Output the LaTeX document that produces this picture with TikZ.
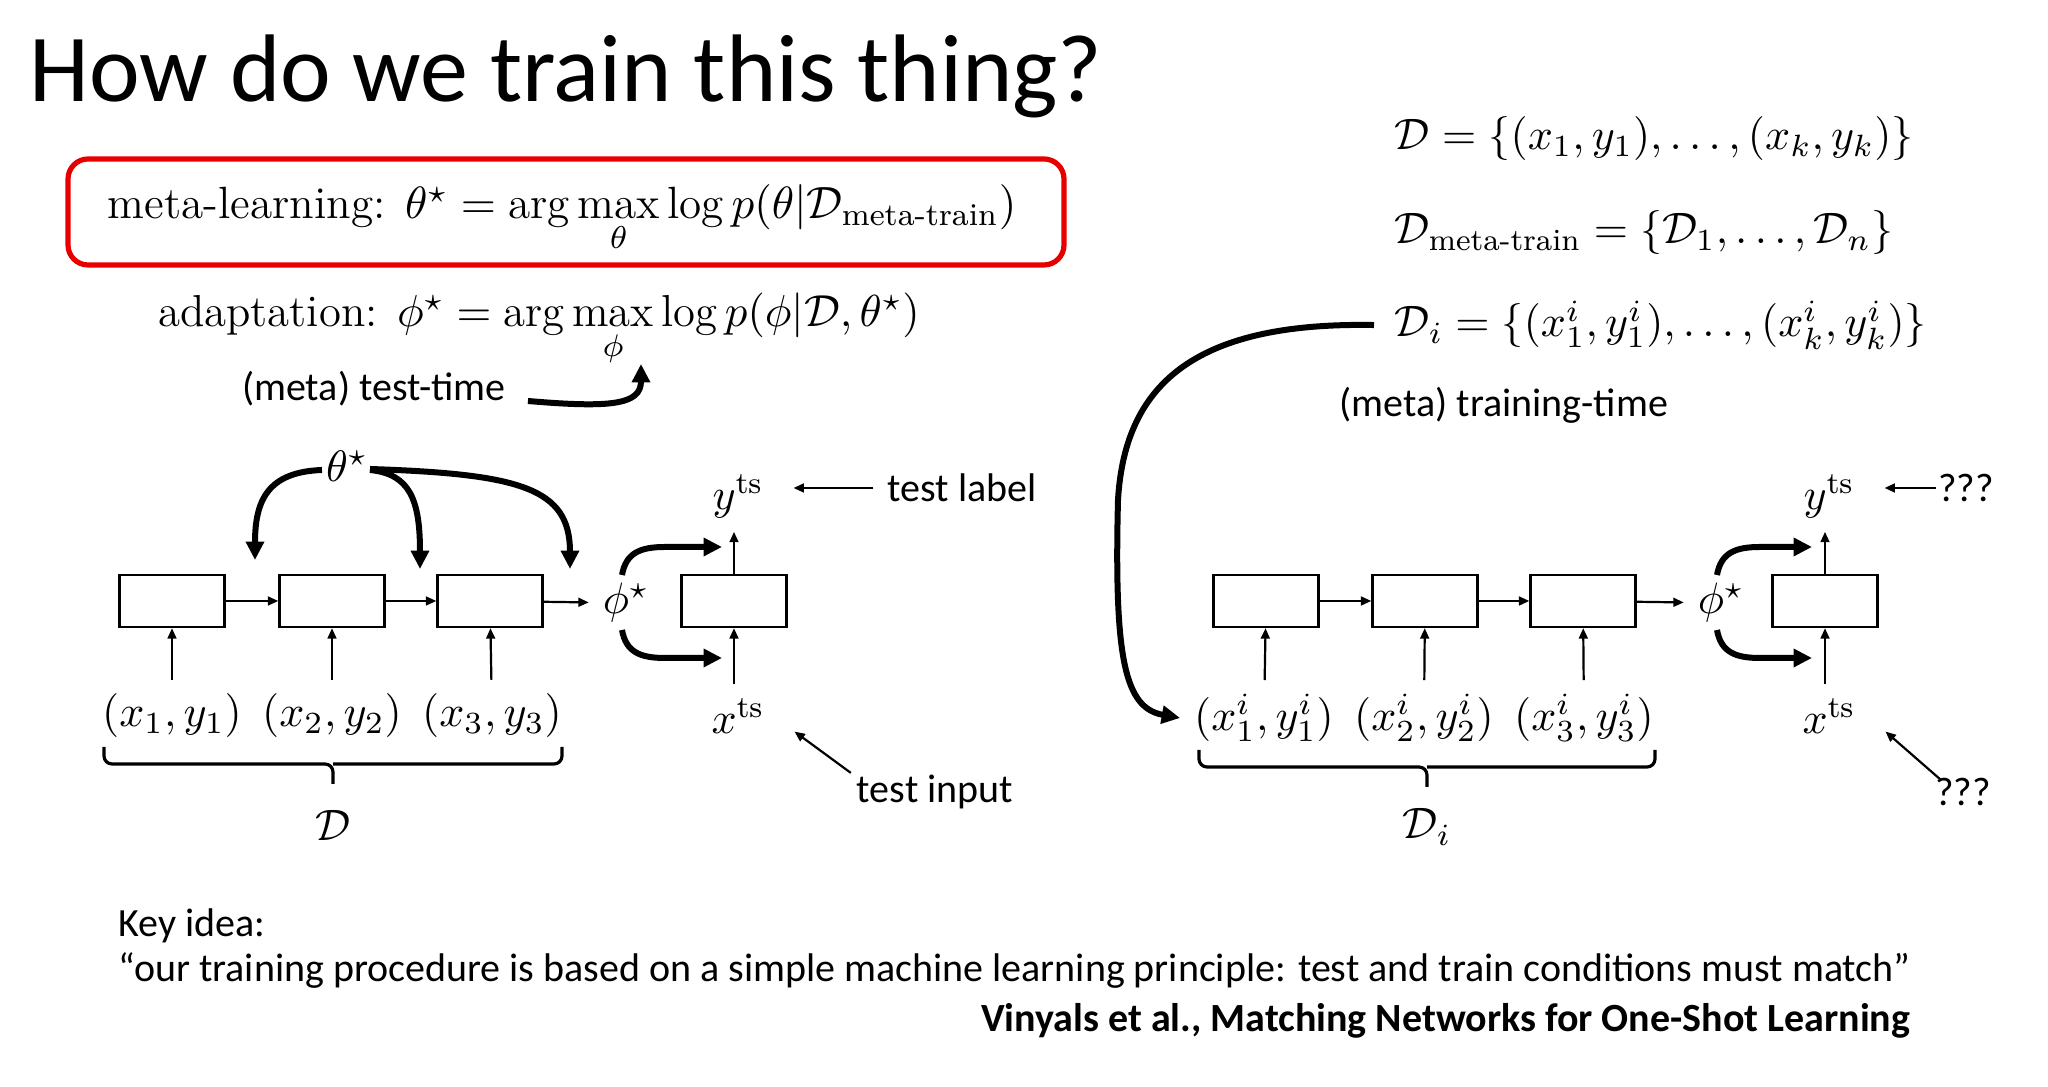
\RequirePackage{fix-cm}
\documentclass[tikz,border=0pt]{standalone}
\usepackage{amsmath}
\usepackage{fontspec}
\newfontfamily\calibri{Carlito}
\usetikzlibrary{arrows.meta, calc}
\definecolor{slidered}{RGB}{232,0,0}
\tikzset{
  cell/.style={rectangle, draw=black, line width=0.6pt, minimum width=26.25pt,
               minimum height=13pt, inner sep=0pt},
  thinarrow/.style={-{Triangle[length=2.6pt,width=2.2pt]}, draw=black, line width=0.55pt},
  boldarrow/.style={-{Triangle[length=4.6pt,width=4.4pt]}, draw=black, line width=1.5pt},
  calib/.style={font=\calibri\fontsize{10}{12}\selectfont},
  mathlbl/.style={font=\fontsize{11}{13}\selectfont},
  headline/.style={font=\calibri\fontsize{24}{28}\selectfont, anchor=base west, inner sep=0pt},
  redbox/.style={rectangle, draw=slidered, line width=1.3pt, rounded corners=5pt,
                 minimum width=249pt, minimum height=26.5pt},
  bracepath/.style={draw=black, line width=0.8pt, rounded corners=2pt},
}

\begin{document}
\begin{tikzpicture}[x=0.25pt, y=-0.25pt,
  eqleft/.style={mathlbl, anchor=base west, inner sep=2pt},
  note/.style={calib, anchor=base west, inner sep=0pt}
]
  \useasboundingbox[fill=white] (0,0) rectangle (2048,1087);

  % title and objectives
  \node[headline] (title) at (29,102) {How do we train this thing?};
  \node[redbox] (metabox) at (566,212) {};
  \node[mathlbl, anchor=base, font=\fontsize{11.3}{13}\selectfont] (metaeq) at (562,219)
    {$\text{meta-learning: } \theta^\star = \arg\max\limits_\theta \log p(\theta|\mathcal{D}_{\text{meta-train}})$};
  \node[mathlbl, anchor=base, font=\fontsize{11.2}{13}\selectfont] (adapteq) at (539,327)
    {$\text{adaptation: } \phi^\star = \arg\max\limits_\phi \log p(\phi|\mathcal{D},\theta^\star)$};
  \node[calib] (testtime) at (374,389) {(meta) test-time};
  \coordinate (phimax) at (641,364);
  \draw[boldarrow] ([xshift=2pt,yshift=-3pt]testtime.east) .. controls (610,408) and (641,405) .. (phimax);

  \node[eqleft] (deq) at (1386,150) {$\mathcal{D} = \{(x_1,y_1),\ldots,(x_k,y_k)\}$};
  \node[eqleft] (mteq) at (1386,244) {$\mathcal{D}_{\text{meta-train}} = \{\mathcal{D}_1,\ldots,\mathcal{D}_n\}$};
  \node[eqleft] (dieq) at (1386,337) {$\mathcal{D}_i = \{(x^i_1,y^i_1),\ldots,(x^i_k,y^i_k)\}$};
  \node[calib] (traintime) at (1504,405) {(meta) training-time};

  % test-time panel
  \foreach \n/\x in {1/172, 2/332, 3/490, 4/734}
    \node[cell] (lb\n) at (\x,601) {};
  \node[mathlbl] (lp1) at (172,716) {$(x_1,y_1)$};
  \node[mathlbl] (lp2) at (332,716) {$(x_2,y_2)$};
  \node[mathlbl] (lp3) at (492,716) {$(x_3,y_3)$};
  \node[mathlbl] (ltheta) at (347,466) {$\theta^\star$};
  \node[mathlbl] (lphi) at (626,603) {$\phi^\star$};
  \node[mathlbl] (lyts) at (738,496) {$y^{\text{ts}}$};
  \node[mathlbl] (lxts) at (738,716) {$x^{\text{ts}}$};
  \node[mathlbl] (ldset) at (333,825) {$\mathcal{D}$};

  \foreach \n in {1,2,3}
    \draw[thinarrow] (lp\n) -- (lb\n);
  \draw[thinarrow] (lb1) -- (lb2);
  \draw[thinarrow] (lb2) -- (lb3);
  \draw[thinarrow] (lb3) -- (lphi);
  \draw[thinarrow] (lb4) -- (lb4 |- lyts.south);
  \draw[thinarrow] (lb4 |- lxts.north) -- (lb4);

  \draw[boldarrow] (322,470) .. controls (268,472) and (255,500) .. (255,560);
  \draw[boldarrow] (370,470) .. controls (410,474) and (420,500) .. (420,569);
  \draw[boldarrow] (370,469) .. controls (520,474) and (570,488) .. (570,569);
  \draw[boldarrow] (622,575) .. controls (626,553) and (640,547) .. (665,547) -- (722,547);
  \draw[boldarrow] (622,630) .. controls (626,652) and (640,658) .. (665,658) -- (722,658);

  \draw[bracepath] (104,747) |- (333,764) -- (333,784) (333,764) -| (562,747);

  \node[calib] (testlabel) at (962,488) {test label};
  \node[calib] (testinput) at (935,792) {test input};
  \draw[thinarrow, shorten >=4pt] (testlabel.west) -- (testlabel.west -| lyts.east);
  \draw[thinarrow] ([xshift=2pt,yshift=-3pt]testinput.north west) -- ([xshift=4pt,yshift=4pt]lxts.south east);

  % training-time panel
  \foreach \n/\x in {1/1266, 2/1425, 3/1583, 4/1825}
    \node[cell] (rb\n) at (\x,601) {};
  \node[mathlbl] (rp1) at (1264,718) {$(x^i_1,y^i_1)$};
  \node[mathlbl] (rp2) at (1424,718) {$(x^i_2,y^i_2)$};
  \node[mathlbl] (rp3) at (1584,718) {$(x^i_3,y^i_3)$};
  \node[mathlbl] (rphi) at (1721,603) {$\phi^\star$};
  \node[mathlbl] (ryts) at (1829,496) {$y^{\text{ts}}$};
  \node[mathlbl] (rxts) at (1829,716) {$x^{\text{ts}}$};
  \node[mathlbl] (rdset) at (1427,827) {$\mathcal{D}_i$};

  \foreach \n in {1,2,3}
    \draw[thinarrow] (rp\n) -- (rb\n);
  \draw[thinarrow] (rb1) -- (rb2);
  \draw[thinarrow] (rb2) -- (rb3);
  \draw[thinarrow] (rb3) -- (rphi);
  \draw[thinarrow] (rb4) -- (rb4 |- ryts.south);
  \draw[thinarrow] (rb4 |- rxts.north) -- (rb4);

  \draw[boldarrow] (1717,575) .. controls (1721,553) and (1735,547) .. (1760,547) -- (1812,547);
  \draw[boldarrow] (1717,630) .. controls (1721,652) and (1735,658) .. (1760,658) -- (1812,658);
  \draw[boldarrow] ([xshift=-3pt]dieq.west) .. controls (1200,322) and (1125,380) .. (1118,500)
    .. controls (1114,660) and (1125,708) .. (rp1.west);

  \draw[bracepath] (1199,750) |- (1427,767) -- (1427,787) (1427,767) -| (1655,750);

  \node[calib] (qlabel) at (1966,488) {???};
  \node[calib] (qinput) at (1963,792) {???};
  \draw[thinarrow, shorten >=4pt] ([xshift=3pt]qlabel.west) -- (qlabel.west -| ryts.east);
  \draw[thinarrow] ([xshift=5pt,yshift=-4pt]qinput.north west) -- ([xshift=4pt,yshift=4pt]rxts.south east);

  % key idea
  \node[note] (keyidea) at (118,937) {Key idea:};
  \node[note] (quote) at (118,982)
    {“our training procedure is based on a simple machine learning principle: test and train conditions must match”};
  \node[calib, anchor=base east, inner sep=0pt, font=\calibri\fontsize{10}{12}\selectfont\bfseries] (source) at (1911,1032)
    {Vinyals et al., Matching Networks for One-Shot Learning};
\end{tikzpicture}
\end{document}
